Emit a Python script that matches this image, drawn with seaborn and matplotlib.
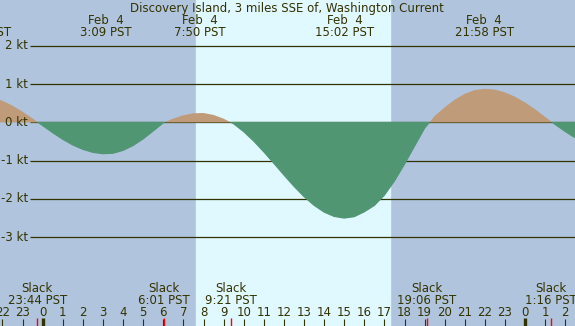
import numpy as np
import matplotlib
matplotlib.use("Agg")
import matplotlib.pyplot as plt
import seaborn as sns

# current speed (kt) every half hour, Feb 4 00:00 = 0
hours = np.arange(-2.5, 27.5, 0.5)
speed = np.array([
    0.653, 0.565, 0.438, 0.280, 0.103, -0.084, -0.270, -0.442, -0.590, -0.705,
    -0.782, -0.818, -0.805, -0.731, -0.603, -0.429, -0.223, -0.010, 0.101, 0.188,
    0.240, 0.246, 0.196, 0.098, -0.036, -0.242, -0.490, -0.770, -1.070, -1.374,
    -1.669, -1.939, -2.167, -2.343, -2.457, -2.500, -2.463, -2.336, -2.170, -1.900,
    -1.530, -1.090, -0.620, -0.150, 0.169, 0.397, 0.596, 0.750, 0.847, 0.880,
    0.856, 0.785, 0.671, 0.521, 0.342, 0.144, -0.056, -0.239, -0.407, -0.550,
])

# max flood / ebb events (top labels)
peak_hours = [-3.05, 3.15, 7.833, 15.033, 21.967]
peak_dates = ["Feb  3", "Feb  4", "Feb  4", "Feb  4", "Feb  4"]
peak_times = ["20:48", "3:09", "7:50", "15:02", "21:58"]

# slack events (bottom labels)
slack_hours = [-0.267, 6.017, 9.35, 19.1, 25.267]
slack_times = ["23:44", "6:01", "9:21", "19:06", "1:16"]

kt_levels = [2, 1, 0, -1, -2, -3]
daylight = (7.627, 17.28)
title = "Discovery Island, 3 miles SSE of, Washington Current"

night_col = "#b0c4de"
day_col = "#e0f8ff"
flood_col = "#bf9b7a"
ebb_col = "#509673"
ink = "#333300"
fs = 8.5

sns.set_theme(style="white", rc={"axes.facecolor": night_col})
plt.rcParams["font.family"] = ["DejaVu Sans"]

fig = plt.figure(figsize=(5.75, 3.26), dpi=100)
ax = fig.add_axes([0, 0, 1, 1])
ax.set_xlim(-2.124, 26.48)
ax.set_ylim(-5.32, 3.20)
ax.axis("off")

ax.axvspan(-5, 30, color=night_col, zorder=0)
ax.axvspan(*daylight, color=day_col, zorder=0.5)

ax.hlines(kt_levels, -0.632, 30, color=ink, lw=0.9, zorder=1)
for k in kt_levels:
    ax.text(-0.731, k, f"{k} kt", ha="right", va="center", fontsize=fs, color=ink)

ax.fill_between(hours, speed, 0, where=speed >= 0, interpolate=True,
                color=flood_col, lw=0, zorder=2)
ax.fill_between(hours, speed, 0, where=speed <= 0, interpolate=True,
                facecolor=ebb_col, edgecolor=ebb_col, lw=0.8, zorder=2)

ax.text(12.15, 2.896, title, ha="center", va="baseline", fontsize=fs, color=ink)
for t, d, s in zip(peak_hours, peak_dates, peak_times):
    ax.text(t, 2.574, d, ha="center", va="baseline", fontsize=fs, color=ink)
    ax.text(t, 2.261, f"{s} PST", ha="center", va="baseline", fontsize=fs, color=ink)

for t, s in zip(slack_hours, slack_times):
    ax.text(t, -4.422, "Slack", ha="center", va="baseline", fontsize=fs, color=ink)
    ax.text(t, -4.752, f"{s} PST", ha="center", va="baseline", fontsize=fs, color=ink)

# hour axis along the bottom
hour_ticks = np.arange(-2, 27)
for h in hour_ticks:
    ax.text(h, -5.058, str(h % 24), ha="center", va="baseline", fontsize=fs, color=ink)
ax.vlines(hour_ticks, -5.32, -5.14, color=ink, lw=0.8, zorder=3)
ax.vlines([0, 24], -5.32, -5.11, color=ink, lw=2.4, zorder=3)
ax.vlines(slack_hours, -5.32, -5.11, color="red", lw=1.0, zorder=4)

fig.savefig("out.png", dpi=100)
